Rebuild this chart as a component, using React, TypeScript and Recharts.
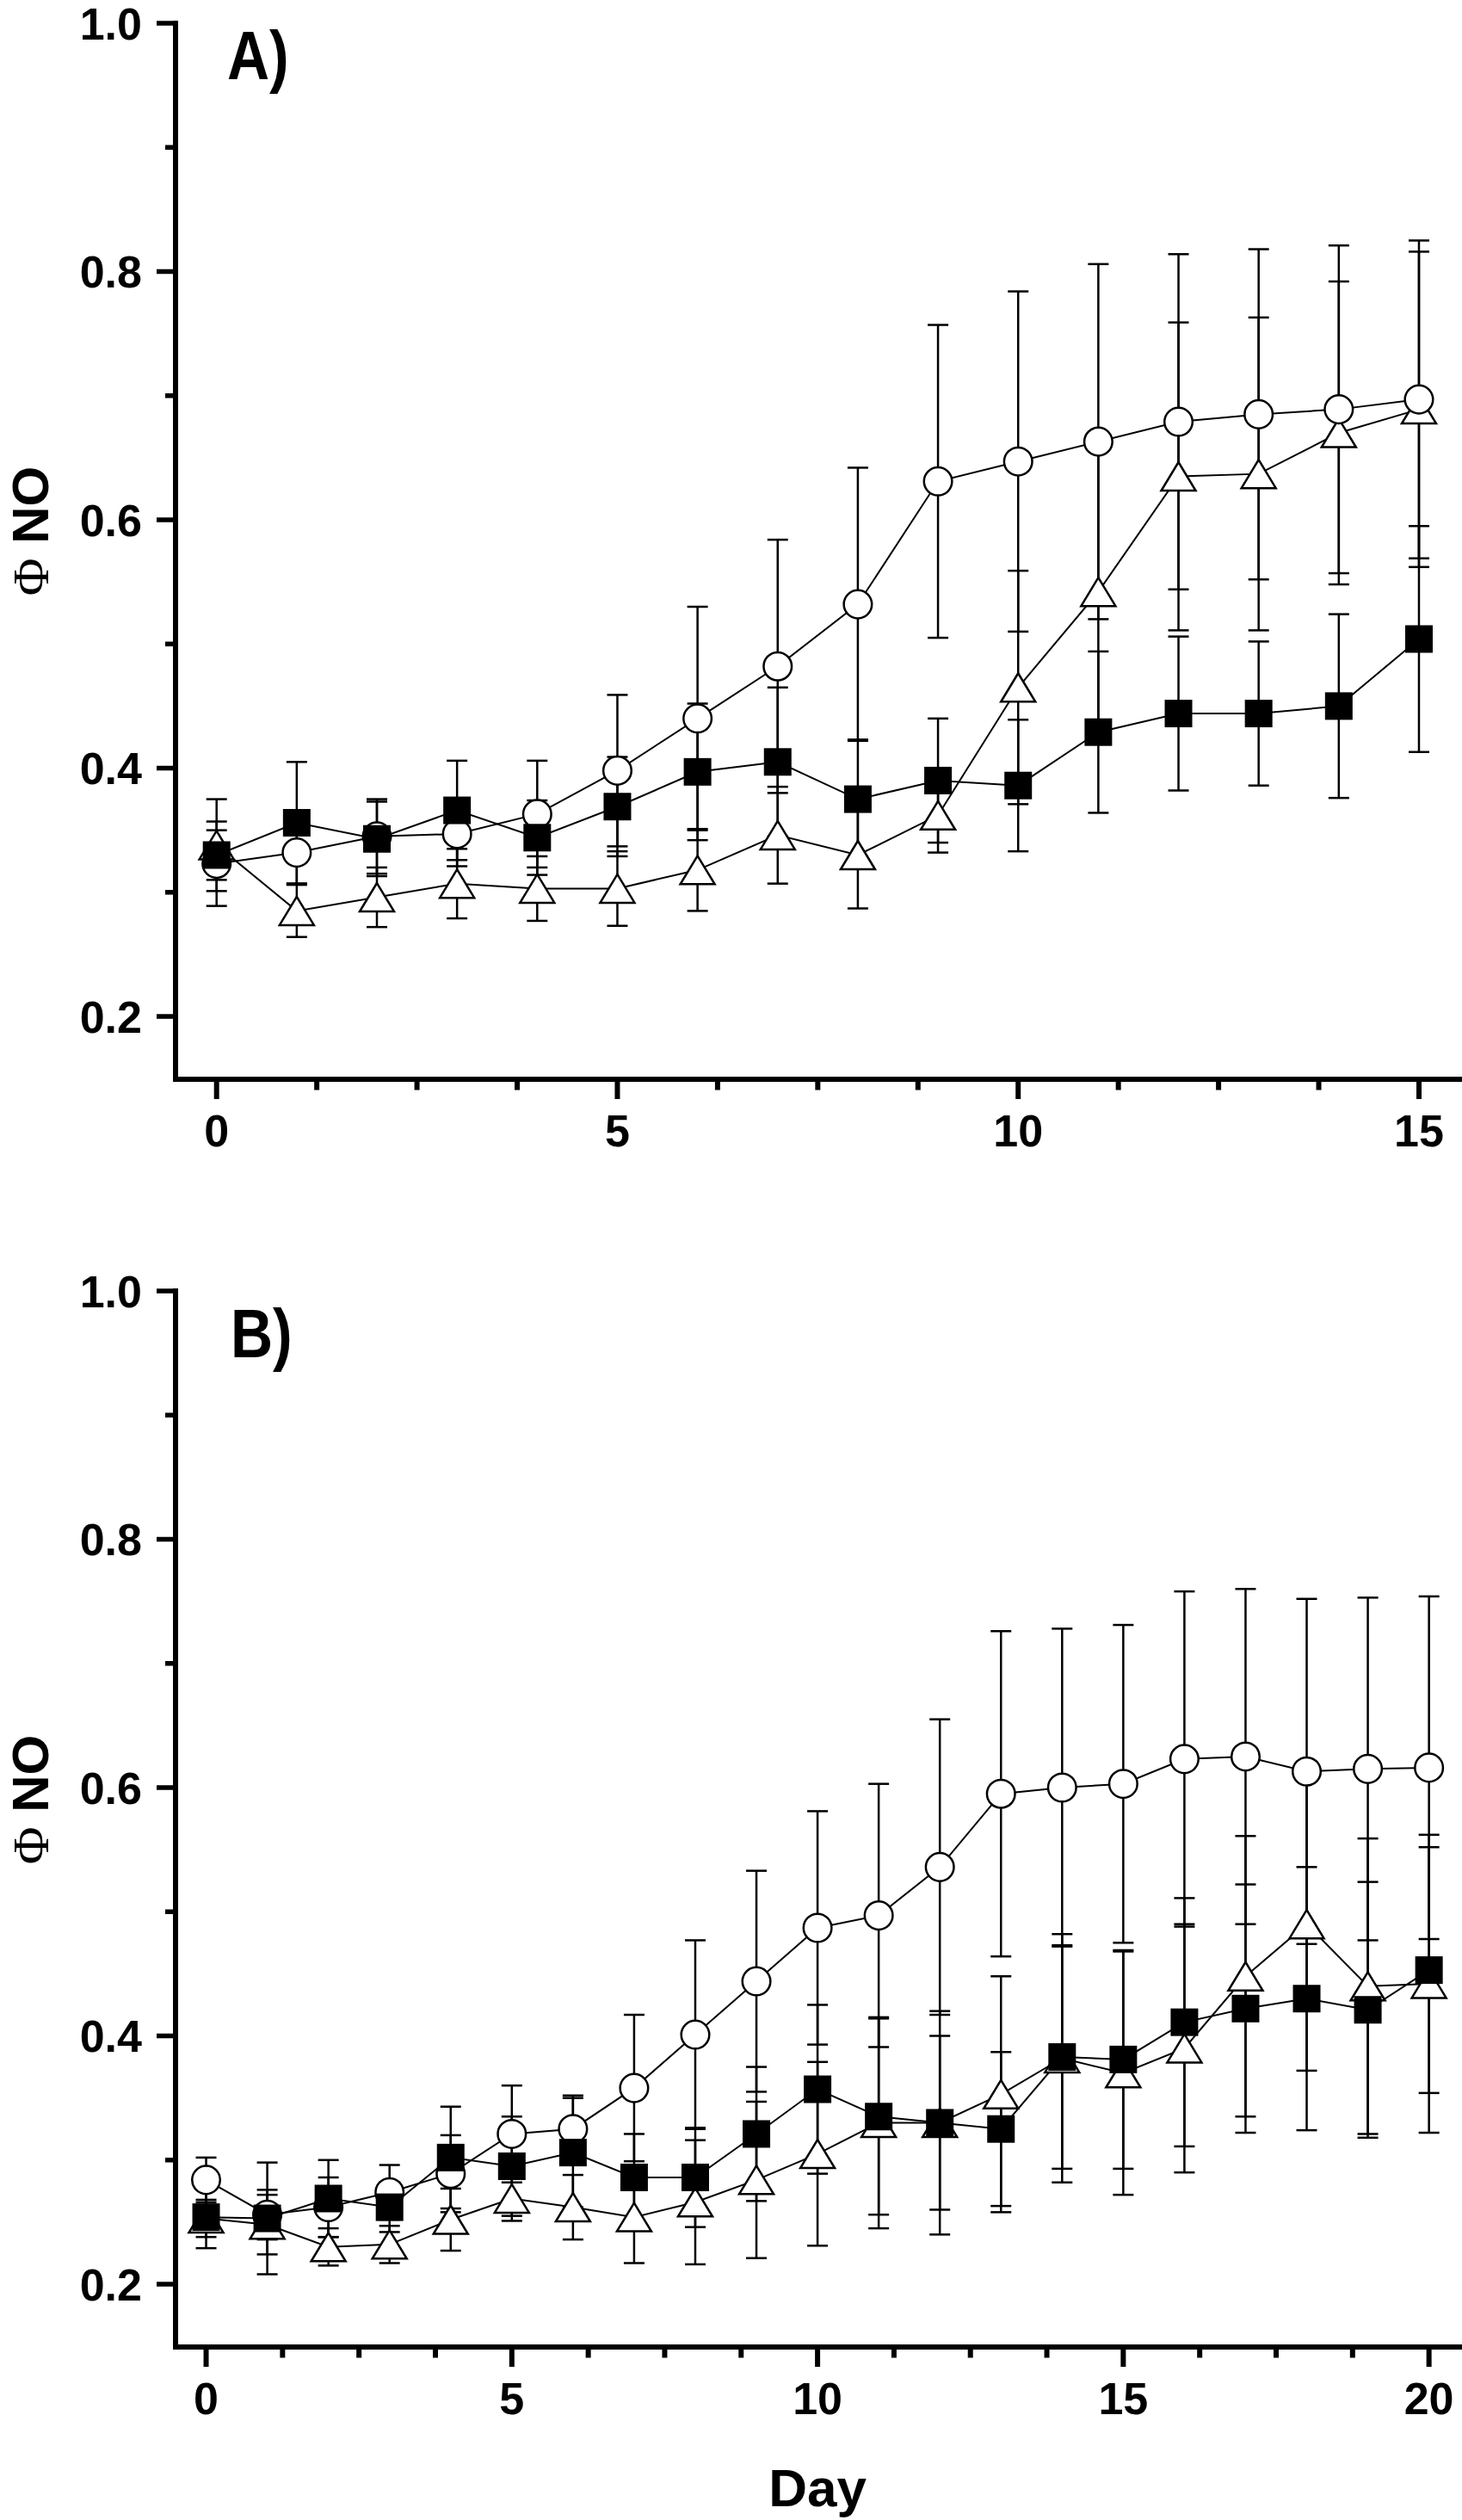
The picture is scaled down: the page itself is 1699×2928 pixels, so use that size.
import React from 'react';
import { LineChart, Line, XAxis, YAxis, ErrorBar } from 'recharts';

// ---------- Panel A (days 0..15) ----------
const daysA = [0, 1, 2, 3, 4, 5, 6, 7, 8, 9, 10, 11, 12, 13, 14, 15];
const circleA = [0.323, 0.332, 0.345, 0.347, 0.363, 0.398, 0.44, 0.482, 0.532, 0.631, 0.647, 0.663, 0.679, 0.685, 0.689, 0.697];
const circleErrA = [0.034, 0.025, 0.03, 0.026, 0.043, 0.061, 0.09, 0.102, 0.11, 0.126, 0.137, 0.143, 0.135, 0.133, 0.132, 0.128];
const squareA = [0.33, 0.356, 0.343, 0.366, 0.344, 0.369, 0.397, 0.405, 0.375, 0.39, 0.386, 0.429, 0.444, 0.444, 0.45, 0.504];
const squareErrA = [0.02, 0.049, 0.03, 0.04, 0.03, 0.04, 0.055, 0.06, 0.048, 0.05, 0.053, 0.065, 0.062, 0.058, 0.074, 0.091];
const triA = [0.338, 0.285, 0.296, 0.307, 0.303, 0.303, 0.318, 0.346, 0.33, 0.362, 0.465, 0.542, 0.635, 0.637, 0.67, 0.689];
const triErrA = [0.037, 0.021, 0.024, 0.028, 0.026, 0.03, 0.033, 0.039, 0.043, 0.03, 0.094, 0.116, 0.124, 0.126, 0.122, 0.127];

// ---------- Panel B (days 0..20) ----------
const daysB = [0, 1, 2, 3, 4, 5, 6, 7, 8, 9, 10, 11, 12, 13, 14, 15, 16, 17, 18, 19, 20];
const circleB = [0.284, 0.256, 0.262, 0.274, 0.289, 0.321, 0.325, 0.358, 0.401, 0.444, 0.487, 0.497, 0.536, 0.595, 0.6, 0.603, 0.623, 0.625, 0.613, 0.615, 0.616];
const circleErrB = [0.018, 0.02, 0.024, 0.022, 0.031, 0.039, 0.027, 0.059, 0.076, 0.089, 0.094, 0.106, 0.119, 0.131, 0.128, 0.128, 0.135, 0.135, 0.139, 0.138, 0.138];
const squareB = [0.254, 0.253, 0.269, 0.262, 0.302, 0.295, 0.306, 0.286, 0.286, 0.321, 0.357, 0.335, 0.33, 0.325, 0.383, 0.381, 0.411, 0.422, 0.43, 0.421, 0.453];
const squareErrB = [0.025, 0.045, 0.031, 0.02, 0.041, 0.04, 0.044, 0.035, 0.04, 0.054, 0.068, 0.079, 0.07, 0.062, 0.09, 0.088, 0.1, 0.1, 0.106, 0.103, 0.099];
const triB = [0.253, 0.248, 0.23, 0.232, 0.252, 0.269, 0.262, 0.254, 0.266, 0.284, 0.305, 0.33, 0.33, 0.353, 0.382, 0.37, 0.39, 0.448, 0.49, 0.44, 0.442];
const triErrB = [0.015, 0.024, 0.015, 0.015, 0.025, 0.018, 0.026, 0.037, 0.05, 0.063, 0.074, 0.085, 0.09, 0.095, 0.1, 0.098, 0.1, 0.113, 0.118, 0.119, 0.12];

// ---------- Ticks ----------
const xTicksA = [0, 1.25, 2.5, 3.75, 5, 6.25, 7.5, 8.75, 10, 11.25, 12.5, 13.75, 15];
const xTicksB = [0, 1.25, 2.5, 3.75, 5, 6.25, 7.5, 8.75, 10, 11.25, 12.5, 13.75, 15, 16.25, 17.5, 18.75, 20];
const xMajor = [0, 5, 10, 15, 20];
const yTicks = [0.2, 0.3, 0.4, 0.5, 0.6, 0.7, 0.8, 0.9, 1.0];
const yMajor = [0.2, 0.4, 0.6, 0.8, 1.0];

const FONT = "'Liberation Sans', Arial, Helvetica, sans-serif";

const buildRows = (days: number[], c: number[], ce: number[], s: number[], se: number[], t: number[], te: number[]) =>
  days.map((d, i) => ({ day: d, c: c[i], cErr: ce[i], s: s[i], sErr: se[i], t: t[i], tErr: te[i] }));

const dataA = buildRows(daysA, circleA, circleErrA, squareA, squareErrA, triA, triErrA);
const dataB = buildRows(daysB, circleB, circleErrB, squareB, squareErrB, triB, triErrB);

const XTick = (props: any) => {
  const { x, y, payload } = props;
  const v = payload.value;
  const major = xMajor.some((m) => Math.abs(m - v) < 1e-6);
  return (
    <g>
      <line x1={x} x2={x} y1={y} y2={y + (major ? 23 : 12.5)} stroke="#000" strokeWidth={6} />
      {major && (
        <text x={x} y={y + 78} textAnchor="middle" fontFamily={FONT} fontWeight="bold" fontSize={52} fill="#000">
          {v}
        </text>
      )}
    </g>
  );
};

const YTick = (props: any) => {
  const { x, y, payload } = props;
  const v = payload.value;
  const major = yMajor.some((m) => Math.abs(m - v) < 1e-6);
  return (
    <g>
      <line x1={x - (major ? 22 : 12)} x2={x} y1={y} y2={y} stroke="#000" strokeWidth={5.5} />
      {major && (
        <text x={x - 39} y={y} dy="0.36em" textAnchor="end" fontFamily={FONT} fontWeight="bold" fontSize={52} fill="#000">
          {v.toFixed(1)}
        </text>
      )}
    </g>
  );
};

const renderCircle = (p: any) => {
  if (p.cx == null || p.cy == null) return <g key={`c${p.index}`} />;
  return <circle key={`c${p.index}`} cx={p.cx} cy={p.cy} r={16.3} fill="#fff" stroke="#000" strokeWidth={2.5} />;
};

const renderSquare = (p: any) => {
  if (p.cx == null || p.cy == null) return <g key={`s${p.index}`} />;
  return <rect key={`s${p.index}`} x={p.cx - 16} y={p.cy - 16} width={32} height={32} fill="#000" stroke="none" />;
};

const renderTri = (p: any) => {
  if (p.cx == null || p.cy == null) return <g key={`t${p.index}`} />;
  const { cx, cy } = p;
  const d = `M${cx},${cy - 16.5} L${cx + 20},${cy + 16.5} L${cx - 20},${cy + 16.5} Z`;
  return <path key={`t${p.index}`} d={d} fill="#fff" stroke="#000" strokeWidth={2.5} strokeLinejoin="miter" />;
};

const Panel = ({ data, ticks, domain }: { data: any[]; ticks: number[]; domain: [number, number] }) => (
  <LineChart width={1699} height={1360} data={data} margin={{ top: 27, right: 0, bottom: 0, left: 0 }}>
    <XAxis
      type="number"
      dataKey="day"
      domain={domain}
      allowDataOverflow
      ticks={ticks}
      interval={0}
      tick={<XTick />}
      tickLine={false}
      tickSize={0}
      tickMargin={0}
      axisLine={{ stroke: '#000', strokeWidth: 6, strokeLinecap: 'square' }}
      height={106}
    />
    <YAxis
      type="number"
      domain={[0.1494, 1.0]}
      allowDataOverflow
      ticks={yTicks}
      interval={0}
      tick={<YTick />}
      tickLine={false}
      tickSize={0}
      tickMargin={0}
      axisLine={{ stroke: '#000', strokeWidth: 6, strokeLinecap: 'square' }}
      width={204}
    />
    <Line type="linear" dataKey="t" stroke="#000" strokeWidth={2} dot={renderTri} activeDot={false} isAnimationActive={false}>
      <ErrorBar dataKey="tErr" direction="y" width={12} stroke="#000" strokeWidth={2.5} />
    </Line>
    <Line type="linear" dataKey="c" stroke="#000" strokeWidth={2} dot={renderCircle} activeDot={false} isAnimationActive={false}>
      <ErrorBar dataKey="cErr" direction="y" width={12} stroke="#000" strokeWidth={2.5} />
    </Line>
    <Line type="linear" dataKey="s" stroke="#000" strokeWidth={2} dot={renderSquare} activeDot={false} isAnimationActive={false}>
      <ErrorBar dataKey="sErr" direction="y" width={12} stroke="#000" strokeWidth={2.5} />
    </Line>
  </LineChart>
);

const YLabel = ({ cy }: { cy: number }) => (
  <text transform={`translate(56,${cy}) rotate(-90)`} textAnchor="middle" fontSize={60} fill="#000">
    <tspan fontFamily="'Liberation Serif', 'Times New Roman', serif" fontWeight="normal">Φ</tspan>
    <tspan fontFamily={FONT} fontWeight="bold"> NO</tspan>
  </text>
);

export default function App() {
  return (
    <div style={{ position: 'absolute', left: 0, top: 0, width: 1699, height: 2928, background: '#fff', overflow: 'hidden' }}>
      <div style={{ position: 'absolute', left: 0, top: 0 }}>
        <Panel data={dataA} ticks={xTicksA} domain={[-0.512, 15.537]} />
      </div>
      <div style={{ position: 'absolute', left: 0, top: 1473 }}>
        <Panel data={dataB} ticks={xTicksB} domain={[-0.5, 20.54]} />
      </div>
      <svg width={1699} height={2928} style={{ position: 'absolute', left: 0, top: 0, pointerEvents: 'none' }}>
        <text transform="translate(264,91.5) scale(0.85,1)" fontFamily={FONT} fontWeight="bold" fontSize={80} fill="#000">A)</text>
        <text transform="translate(268,1577) scale(0.85,1)" fontFamily={FONT} fontWeight="bold" fontSize={80} fill="#000">B)</text>
        <YLabel cy={617} />
        <YLabel cy={2091} />
        <text x={950} y={2912} textAnchor="middle" fontFamily={FONT} fontWeight="bold" fontSize={62} fill="#000">Day</text>
      </svg>
    </div>
  );
}
